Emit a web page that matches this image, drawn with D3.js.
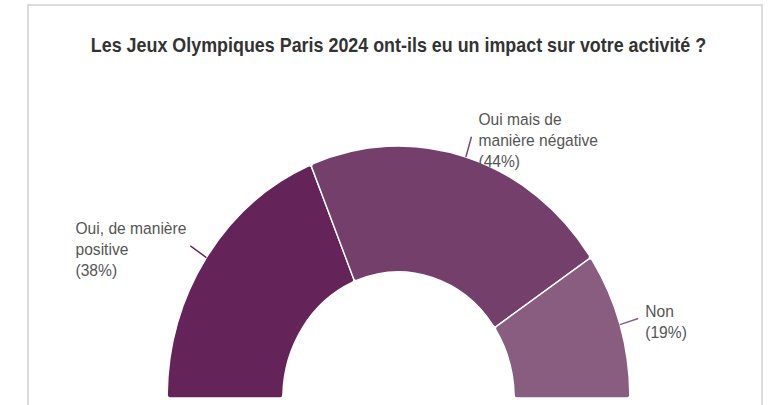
<!DOCTYPE html>
<html>
<head>
<meta charset="utf-8">
<script src="https://cdn.jsdelivr.net/npm/d3@7"></script>
<style>
  html, body { margin: 0; padding: 0; background: #fff; }
  svg { display: block; }
</style>
</head>
<body>
<div id="chart"></div>
<script>
// data
const categories = ['Oui, de manière positive', 'Oui mais de manière négative', 'Non'];
const labelLines = [
    ['Oui, de manière', 'positive'],
    ['Oui mais de', 'manière négative'],
    ['Non']
];
const values = [38, 44, 19];
const colors = ['#64245a', '#743f6b', '#885d7f'];
const title = 'Les Jeux Olympiques Paris 2024 ont-ils eu un impact sur votre activité ?';

const WIDTH = 769;
const HEIGHT = 405;
// the picture is a bit squeezed horizontally
const SX = 0.918;

const svg = d3.select('#chart')
    .append('svg')
    .attr('width', WIDTH)
    .attr('height', HEIGHT);

// frame
svg.append('rect')
    .attr('x', 28)
    .attr('y', 5)
    .attr('width', 734)
    .attr('height', HEIGHT + 20)
    .attr('fill', 'none')
    .attr('stroke', '#dcdcdc')
    .attr('stroke-width', 2);

const root = svg.append('g')
    .attr('transform', `scale(${SX},1)`);

// Title
root.append('text')
    .attr('x', 398.5 / SX)
    .attr('y', 52)
    .attr('text-anchor', 'middle')
    .attr('font-family', 'Liberation Sans, Arial, sans-serif')
    .attr('font-size', '19.5px')
    .attr('font-weight', 'bold')
    .attr('fill', '#333')
    .text(title);

const CX = 398.5 / SX;
const CY = 398;
const R = 252;
const r = 126;

const pie = d3.pie()
    .sort(null)
    .value(d => d)
    .startAngle(-Math.PI / 2)
    .endAngle(Math.PI / 2);

const arc = d3.arc()
    .innerRadius(r)
    .outerRadius(R)
    .cornerRadius(3);

const arcs = pie(values);

const g = root.append('g')
    .attr('transform', `translate(${CX}, ${CY})`);

g.selectAll('path.slice')
    .data(arcs)
    .join('path')
        .attr('class', 'slice')
        .attr('d', arc)
        .attr('fill', (d, i) => colors[i])
        .attr('stroke', '#fff')
        .attr('stroke-width', 1.5)
        .attr('stroke-linejoin', 'round');

// Leader lines
const inner = d3.arc().innerRadius(R).outerRadius(R);
const outer = d3.arc().innerRadius(R + 21).outerRadius(R + 21);

g.selectAll('line.pointer')
    .data(arcs)
    .join('line')
        .attr('class', 'pointer')
        .attr('x1', d => inner.centroid(d)[0])
        .attr('y1', d => inner.centroid(d)[1])
        .attr('x2', d => outer.centroid(d)[0])
        .attr('y2', d => outer.centroid(d)[1])
        .attr('stroke', (d, i) => colors[i])
        .attr('stroke-width', 1.5);

// Labels
const LINE_H = 21;
const labels = g.selectAll('text.label')
    .data(arcs)
    .join('text')
        .attr('class', 'label')
        .attr('font-family', 'Liberation Sans, Arial, sans-serif')
        .attr('font-size', '17px')
        .attr('fill', '#555');

labels.each(function(d, i) {
    const t = d3.select(this);
    const lines = labelLines[i].concat([`(${values[i]}%)`]);
    lines.forEach((s, k) => {
        t.append('tspan')
            .attr('x', 0)
            .attr('y', k * LINE_H)
            .text(s);
    });
});

// place each label block next to the end of its pointer
labels.each(function(d) {
    const bb = this.getBBox();
    const [ex, ey] = outer.centroid(d);
    const left = ex < 0;
    const x = left ? ex - 4 / SX - bb.width : ex + 7 / SX;
    const y = ey + 3 - (bb.y + bb.height / 2);
    d3.select(this).selectAll('tspan').attr('x', x);
    d3.select(this).attr('transform', `translate(0, ${y})`);
});
</script>
</body>
</html>
